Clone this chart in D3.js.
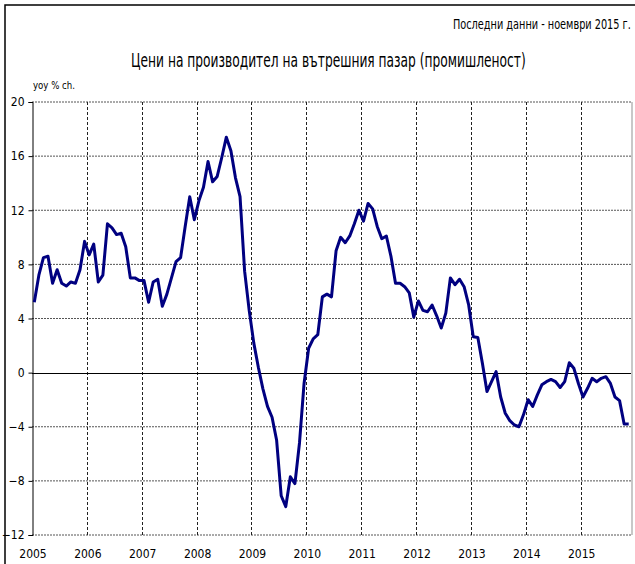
<!DOCTYPE html>
<html>
<head>
<meta charset="utf-8">
<script src="https://cdn.jsdelivr.net/npm/d3@7"></script>
<style>
  body { margin: 0; background: #fff; }
  text { font-family: "Liberation Sans Narrow", "DejaVu Sans Condensed", "Arial Narrow", sans-serif; fill: #000; }
</style>
</head>
<body>
<div id="chart"></div>
<script>
// monthly yoy % change, Jan 2005 - Nov 2015
var yearLabels = ["2005", "2006", "2007", "2008", "2009", "2010", "2011", "2012", "2013", "2014", "2015"];
var yTicks = [-12, -8, -4, 0, 4, 8, 12, 16, 20];

var v2005 = [5.2, 7.2, 8.5, 8.6, 6.6, 7.6, 6.6, 6.4, 6.7, 6.6, 7.6, 9.7];
var v2006 = [8.7, 9.5, 6.7, 7.2, 11.0, 10.7, 10.2, 10.3, 9.3, 7.0, 7.0, 6.8];
var v2007 = [6.8, 5.2, 6.7, 6.9, 4.9, 5.8, 7.0, 8.2, 8.5, 10.8, 13.0, 11.3];
var v2008 = [12.7, 13.7, 15.6, 14.1, 14.5, 15.9, 17.4, 16.4, 14.4, 13.0, 7.5, 4.6];
var v2009 = [2.2, 0.4, -1.2, -2.5, -3.3, -5.0, -9.1, -9.9, -7.7, -8.2, -5.2, -0.8];
var v2010 = [1.8, 2.5, 2.8, 5.6, 5.8, 5.6, 9.0, 10.0, 9.6, 10.1, 11.0, 12.0];
var v2011 = [11.2, 12.5, 12.1, 10.8, 9.9, 10.1, 8.6, 6.6, 6.6, 6.35, 5.9, 4.1];
var v2012 = [5.3, 4.6, 4.5, 5.0, 4.2, 3.3, 4.4, 7.0, 6.5, 6.9, 6.35, 5.0];
var v2013 = [2.65, 2.6, 0.7, -1.4, -0.67, 0.07, -1.8, -3.0, -3.55, -3.87, -4.0, -3.1];
var v2014 = [-2.0, -2.5, -1.66, -0.9, -0.67, -0.5, -0.67, -1.1, -0.67, 0.73, 0.32, -0.8];
var v2015 = [-1.8, -1.16, -0.42, -0.67, -0.42, -0.3, -0.8, -1.8, -2.07, -3.8, -3.8];

var series = [].concat(v2005, v2006, v2007, v2008, v2009, v2010, v2011, v2012, v2013, v2014, v2015);

var width = 635, height = 564;
var margin = {top: 102, right: 4, bottom: 29, left: 32};

var svg = d3.select('#chart')
    .append('svg')
    .attr('width', width)
    .attr('height', height);

// outer frame
svg.append('rect')
    .attr('x', 5).attr('y', 5)
    .attr('width', width + 20).attr('height', height + 20)
    .attr('fill', 'none')
    .attr('stroke', '#000')
    .attr('stroke-width', 1.5);

var x = d3.scaleBand()
    .domain(d3.range(series.length))
    .range([margin.left, width - margin.right])
    .padding(0);

var y = d3.scaleLinear()
    .domain([-12, 20])
    .range([height - margin.bottom, margin.top]);

var x0 = margin.left, x1 = width - margin.right;

// horizontal grid
svg.append('g')
    .selectAll('line')
    .data(yTicks.filter(function (d) { return d !== 0; }))
    .enter()
    .append('line')
    .attr('x1', x0).attr('x2', x1)
    .attr('y1', function (d) { return y(d); })
    .attr('y2', function (d) { return y(d); })
    .attr('stroke', '#555')
    .attr('stroke-width', 1)
    .attr('stroke-dasharray', '2,1');

// vertical year grid
svg.append('g')
    .selectAll('line')
    .data(yearLabels.slice(1))
    .enter()
    .append('line')
    .attr('x1', function (d, i) { return Math.round(x((i + 1) * 12)) + 0.5; })
    .attr('x2', function (d, i) { return Math.round(x((i + 1) * 12)) + 0.5; })
    .attr('y1', y(20)).attr('y2', y(-12))
    .attr('stroke', '#222')
    .attr('stroke-width', 1)
    .attr('stroke-dasharray', '3,2');

// zero line
svg.append('line')
    .attr('x1', x0).attr('x2', x1)
    .attr('y1', Math.round(y(0)) + 0.5).attr('y2', Math.round(y(0)) + 0.5)
    .attr('stroke', '#000');

// right border
svg.append('line')
    .attr('x1', x1 + 1).attr('x2', x1 + 1)
    .attr('y1', y(20)).attr('y2', y(-12))
    .attr('stroke', '#c8c8c8')
    .attr('stroke-width', 2);

// y axis
var yAxis = svg.append('g')
    .attr('transform', 'translate(' + (x0 + 0.5) + ',0)')
    .call(d3.axisLeft(y).tickValues(yTicks).tickSize(4).tickPadding(4));
yAxis.attr('font-family', null);
yAxis.select('.domain').attr('stroke', '#000');
yAxis.selectAll('text').attr('font-size', 12);

// x labels at year boundaries
svg.append('g')
    .selectAll('text')
    .data(yearLabels)
    .enter()
    .append('text')
    .attr('x', function (d, i) { return x(i * 12) + 1; })
    .attr('y', 558)
    .attr('text-anchor', 'middle')
    .attr('font-size', 12)
    .text(function (d) { return d; });

// series line
var line = d3.line()
    .x(function (d, i) { return x(i) + x.bandwidth() / 2; })
    .y(function (d) { return y(d); });

svg.append('path')
    .datum(series)
    .attr('d', line)
    .attr('fill', 'none')
    .attr('stroke', '#000080')
    .attr('stroke-width', 3)
    .attr('stroke-linejoin', 'round');

// narrow text: squeeze horizontally to the reference width
function narrowText(str, left, base, size, targetWidth) {
    var g = svg.append('g');
    var t = g.append('text')
        .attr('font-size', size)
        .text(str);
    var w = t.node().getComputedTextLength();
    var k = Math.min(1, targetWidth / w);
    g.attr('transform', 'translate(' + left + ',' + base + ') scale(' + k + ',1)');
}

narrowText('Последни данни - ноември 2015 г.', 453, 29, 14, 178);
narrowText('Цени на производител на вътрешния пазар (промишленост)', 131, 67, 19, 395);
narrowText('yoy % ch.', 33, 89, 11, 42);
</script>
</body>
</html>
